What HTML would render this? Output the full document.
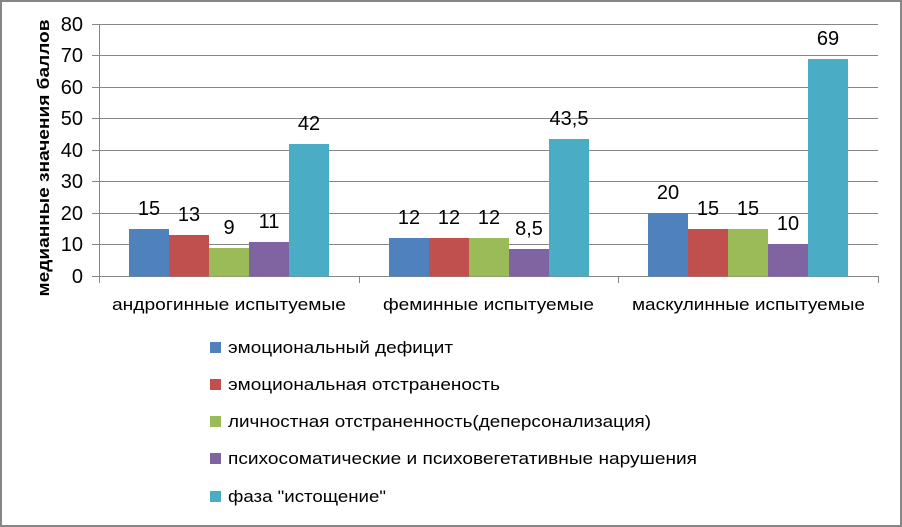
<!DOCTYPE html>
<html><head><meta charset="utf-8"><style>
body{margin:0;background:#fff}
svg{display:block;font-family:"Liberation Sans",sans-serif}
</style></head><body>
<svg width="902" height="527" viewBox="0 0 902 527">
<rect x="1" y="1" width="900" height="525" fill="#fff" stroke="#868686" stroke-width="2"/>
<g stroke="#868686" stroke-width="1">
<line x1="92" y1="24.5" x2="878" y2="24.5"/>
<line x1="92" y1="55.5" x2="878" y2="55.5"/>
<line x1="92" y1="87.5" x2="878" y2="87.5"/>
<line x1="92" y1="118.5" x2="878" y2="118.5"/>
<line x1="92" y1="150.5" x2="878" y2="150.5"/>
<line x1="92" y1="181.5" x2="878" y2="181.5"/>
<line x1="92" y1="213.5" x2="878" y2="213.5"/>
<line x1="92" y1="244.5" x2="878" y2="244.5"/>
<line x1="92" y1="276.5" x2="878" y2="276.5"/>
<line x1="99.5" y1="24" x2="99.5" y2="283"/>
<line x1="359.5" y1="276" x2="359.5" y2="283"/>
<line x1="618.5" y1="276" x2="618.5" y2="283"/>
<line x1="878.5" y1="276" x2="878.5" y2="283"/>
</g>
<g font-size="20" fill="#000" text-anchor="end">
<text x="83" y="31">80</text><text x="83" y="62">70</text><text x="83" y="94">60</text><text x="83" y="125">50</text><text x="83" y="157">40</text><text x="83" y="188">30</text><text x="83" y="220">20</text><text x="83" y="251">10</text><text x="83" y="283">0</text>
</g>
<text transform="translate(49,158) rotate(-90)" font-size="17" font-weight="bold" text-anchor="middle" textLength="277" lengthAdjust="spacingAndGlyphs">медианные значения баллов</text>
<g>
<rect x="129" y="229" width="40" height="47.5" fill="#4F81BD"/>
<rect x="169" y="235" width="40" height="41.5" fill="#C0504D"/>
<rect x="209" y="248" width="40" height="28.5" fill="#9BBB59"/>
<rect x="249" y="242" width="40" height="34.5" fill="#8064A2"/>
<rect x="289" y="144" width="40" height="132.5" fill="#4BACC6"/>
<rect x="389" y="238" width="40" height="38.5" fill="#4F81BD"/>
<rect x="429" y="238" width="40" height="38.5" fill="#C0504D"/>
<rect x="469" y="238" width="40" height="38.5" fill="#9BBB59"/>
<rect x="509" y="249" width="40" height="27.5" fill="#8064A2"/>
<rect x="549" y="139" width="40" height="137.5" fill="#4BACC6"/>
<rect x="648" y="213" width="40" height="63.5" fill="#4F81BD"/>
<rect x="688" y="229" width="40" height="47.5" fill="#C0504D"/>
<rect x="728" y="229" width="40" height="47.5" fill="#9BBB59"/>
<rect x="768" y="244" width="40" height="32.5" fill="#8064A2"/>
<rect x="808" y="59" width="40" height="217.5" fill="#4BACC6"/>
</g>
<g font-size="20" text-anchor="middle">
<text x="149" y="215">15</text><text x="189" y="221">13</text><text x="229" y="234">9</text><text x="269" y="228">11</text><text x="309" y="130">42</text>
<text x="409" y="224">12</text><text x="449" y="224">12</text><text x="489" y="224">12</text><text x="529" y="235">8,5</text><text x="569" y="125">43,5</text>
<text x="668" y="199">20</text><text x="708" y="215">15</text><text x="748" y="215">15</text><text x="788" y="230">10</text><text x="828" y="45">69</text>
</g>
<g font-size="17">
<text x="112" y="310" textLength="234" lengthAdjust="spacingAndGlyphs">андрогинные испытуемые</text>
<text x="383" y="310" textLength="211" lengthAdjust="spacingAndGlyphs">феминные испытуемые</text>
<text x="632" y="310" textLength="233" lengthAdjust="spacingAndGlyphs">маскулинные испытуемые</text>
</g>
<g font-size="17">
<rect x="210" y="342" width="11" height="11" fill="#4F81BD"/><text x="228" y="353" textLength="225" lengthAdjust="spacingAndGlyphs">эмоциональный дефицит</text>
<rect x="210" y="379" width="11" height="11" fill="#C0504D"/><text x="228" y="390" textLength="272" lengthAdjust="spacingAndGlyphs">эмоциональная отстраненость</text>
<rect x="210" y="416" width="11" height="11" fill="#9BBB59"/><text x="228" y="427" textLength="423" lengthAdjust="spacingAndGlyphs">личностная отстраненность(деперсонализация)</text>
<rect x="210" y="453" width="11" height="11" fill="#8064A2"/><text x="228" y="464" textLength="469" lengthAdjust="spacingAndGlyphs">психосоматические и психовегетативные нарушения</text>
<rect x="210" y="491" width="11" height="11" fill="#4BACC6"/><text x="228" y="502" textLength="158" lengthAdjust="spacingAndGlyphs">фаза "истощение"</text>
</g>
</svg>
</body></html>
